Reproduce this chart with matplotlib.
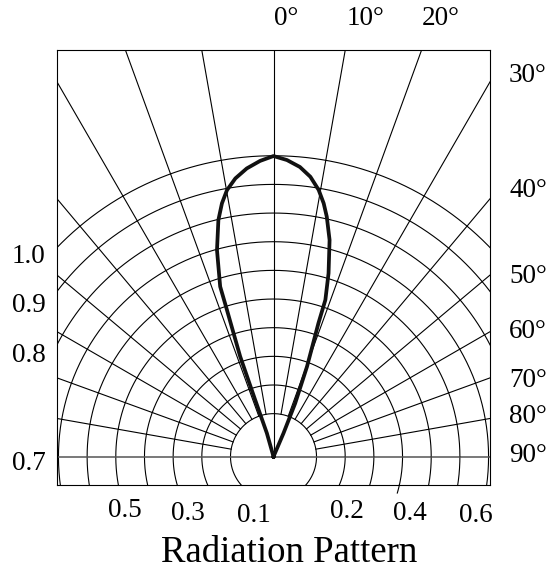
import numpy as np
import matplotlib
matplotlib.use('Agg')
from matplotlib import pyplot as plt

# grid rings (in grid units, small inner circle first) and spoke angles
ring_radii = [1.5, 2.5, 3.5, 4.5, 5.5, 6.5, 7.5, 8.5, 9.5, 10.5]
spoke_angles = [-80, -70, -60, -50, -40, -30, -20, -10, 10, 20, 30, 40, 50, 60, 70, 80]

# radiation curve: angle from axis (deg) and radius (grid units)
right_deg = [0.0, 2.6, 5.2, 7.5, 9.6, 11.2, 12.5, 14.5, 16.7, 18.3, 18.6, 20.4, 22.1, 23.1, 23.0]
right_r = [10.49, 10.36, 10.15, 9.85, 9.44, 9.01, 8.58, 7.81, 6.68, 5.76, 4.91, 3.35, 2.01, 0.89, 0.0]
left_deg = [0.0, -2.6, -5.3, -7.8, -9.9, -11.5, -13.1, -15.3, -17.4, -17.6, -18.4, -17.9, -15.8, -15.0]
left_r = [10.49, 10.33, 10.10, 9.80, 9.44, 9.02, 8.48, 7.47, 6.22, 5.37, 3.68, 2.08, 0.85, 0.0]

top_labels = ['0°', '10°', '20°']
right_labels = ['30°', '40°', '50°', '60°', '70°', '80°', '90°']
left_labels = ['1.0', '0.9', '0.8', '0.7']
bottom_labels = ['0.5', '0.3', '0.1', '0.2', '0.4', '0.6']
title = 'Radiation Pattern'

W, H = 559, 569
plt.rcParams['font.family'] = ['Liberation Serif', 'DejaVu Serif']


def px(x, y):
    return x / W, 1 - y / H


fig = plt.figure(figsize=(W / 100, H / 100), dpi=100)
ax = fig.add_axes([57.3 / W, 1 - 485 / H, 432.7 / W, 435 / H])
ax.set_xlim(-7.54, 7.55)
ax.set_ylim(-0.99, 14.19)
ax.set_xticks([])
ax.set_yticks([])
for sp in ax.spines.values():
    sp.set_linewidth(0.8)

t = np.linspace(0, 2 * np.pi, 720)
for r in ring_radii:
    ax.plot(r * np.cos(t), r * np.sin(t), color='black', lw=0.8)

# small stray bit of the 0.4 ring hanging below the frame
a = np.radians(np.linspace(-12.7, -16.4, 10))
ax.plot(4.5 * np.cos(a), 4.5 * np.sin(a), color='black', lw=0.8, clip_on=False)

r0 = ring_radii[0]
for d in spoke_angles:
    th = np.radians(d)
    ax.plot([r0 * np.sin(th), 30 * np.sin(th)], [r0 * np.cos(th), 30 * np.cos(th)],
            color='black', lw=0.8)
ax.plot([0, 0], [0, 30], color='black', lw=0.8)
ax.axhline(0, color='#555555', lw=1.1)

deg = np.radians(np.concatenate([left_deg[::-1], right_deg[1:]]))
rad = np.concatenate([left_r[::-1], right_r[1:]])
ax.plot(rad * np.sin(deg), rad * np.cos(deg), color='#111111', lw=2.7,
        solid_joinstyle='round')

fs = 19.5
for lab, x in zip(top_labels, [274, 347, 422]):
    fig.text(*px(x, 25), lab, fontsize=fs, ha='left', va='baseline')
for lab, y in zip(right_labels, [81.7, 196.7, 283, 338, 387, 423, 462]):
    fig.text(*px(509, y), lab, fontsize=fs, ha='left', va='baseline')
for lab, y in zip(left_labels, [263.3, 311.7, 361.7, 470]):
    fig.text(*px(45.5, y), lab, fontsize=fs, ha='right', va='baseline')
for lab, x, y in zip(bottom_labels, [125, 187.5, 253.5, 346.5, 410, 475.5],
                     [516.7, 520, 521.7, 518.3, 520, 521.7]):
    fig.text(*px(x, y), lab, fontsize=fs, ha='center', va='baseline')
fig.text(*px(289, 561.7), title, fontsize=26.5, ha='center', va='baseline')

fig.savefig('out.png', dpi=100)
